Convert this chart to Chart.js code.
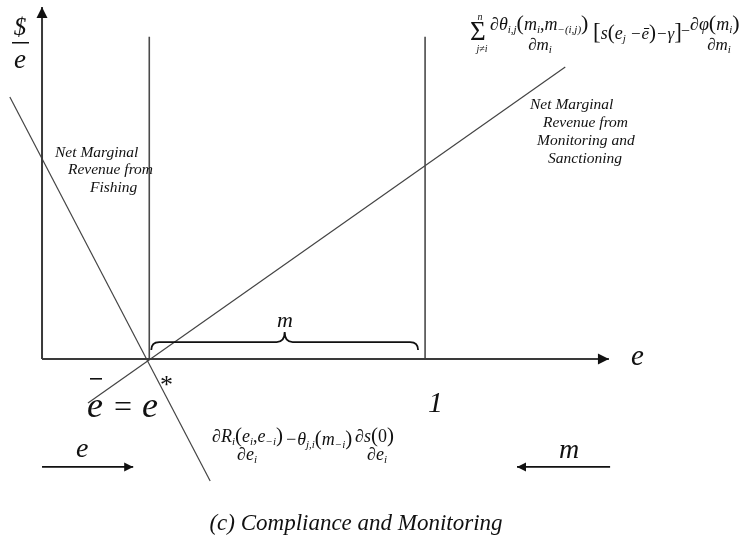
<!DOCTYPE html>
<html>
<head>
<meta charset="utf-8">
<script src="https://cdn.jsdelivr.net/npm/chart.js@4"></script>
<style>
  html, body { margin: 0; padding: 0; background: #fff; }
  #wrap { width: 748px; height: 537px; position: relative; }
</style>
</head>
<body>
<div id="wrap"><canvas id="complianceChart"></canvas></div>
<script>
// effort axis: 0 at the vertical axis, eBar = compliant effort, 1 = full effort
const eBar = 0.28;
const eFull = 1;
const axisXEnd = 1.48;
const axisYEnd = 0.919;
const guideTop = 0.841;

// the two marginal revenue schedules (end points)
const fishingX = [-0.084, 0.439];
const fishingY = [0.684, -0.319];
const monitorX = [0.12, 1.366];
const monitorY = [-0.115, 0.762];

// direction arrows under the diagram
const effortArrowX = [0, 0.238];
const monitorArrowX = [1.483, 1.24];
const arrowRowY = -0.282;

// brace over the monitoring range
const braceBase = 0.023;
const braceLevel = 0.044;
const braceTip = 0.07;

const pts = (xs, ys) => xs.map((x, i) => ({ x, y: ys[i] }));
const SERIF = '"Liberation Serif", "Times New Roman", serif';

const arrowHeads = {
  id: 'arrowHeads',
  afterDatasetsDraw(chart) {
    const ctx = chart.ctx;
    chart.data.datasets.forEach((ds, i) => {
      if (!ds.arrow) return;
      const el = chart.getDatasetMeta(i).data;
      const a = el[el.length - 2], b = el[el.length - 1];
      const ang = Math.atan2(b.y - a.y, b.x - a.x);
      const [len, half] = ds.arrow;
      ctx.save();
      ctx.translate(b.x, b.y);
      ctx.rotate(ang);
      ctx.beginPath();
      ctx.moveTo(0, 0);
      ctx.lineTo(-len, -half);
      ctx.lineTo(-len, half);
      ctx.closePath();
      ctx.fillStyle = '#111';
      ctx.fill();
      ctx.restore();
    });
  }
};

const brace = {
  id: 'brace',
  afterDatasetsDraw(chart) {
    const { ctx, scales: { x, y } } = chart;
    const x0 = x.getPixelForValue(eBar) + 2, x1 = x.getPixelForValue(eFull) - 7;
    const xm = (x0 + x1) / 2;
    const yb = y.getPixelForValue(braceBase), yl = y.getPixelForValue(braceLevel), yt = y.getPixelForValue(braceTip);
    const r = 8;
    ctx.save();
    ctx.strokeStyle = '#111';
    ctx.lineWidth = 1.8;
    ctx.beginPath();
    ctx.moveTo(x0, yb);
    ctx.quadraticCurveTo(x0, yl, x0 + r, yl);
    ctx.lineTo(xm - r, yl);
    ctx.quadraticCurveTo(xm, yl, xm, yt);
    ctx.quadraticCurveTo(xm, yl, xm + r, yl);
    ctx.lineTo(x1 - r, yl);
    ctx.quadraticCurveTo(x1, yl, x1, yb);
    ctx.stroke();
    ctx.restore();
  }
};

// draws a row of text pieces: [text, size, dy, italic]
function run(ctx, x, y, parts) {
  parts.forEach(([t, size, dy, it]) => {
    ctx.font = (it ? 'italic ' : '') + size + 'px ' + SERIF;
    ctx.fillText(t, x, y + (dy || 0));
    x += ctx.measureText(t).width;
  });
  return x;
}
function runWidth(ctx, parts) {
  let w = 0;
  parts.forEach(([t, size, , it]) => {
    ctx.font = (it ? 'italic ' : '') + size + 'px ' + SERIF;
    w += ctx.measureText(t).width;
  });
  return w;
}
function centered(ctx, cx, y, parts) {
  run(ctx, cx - runWidth(ctx, parts) / 2, y, parts);
}

const notes = {
  id: 'notes',
  afterDraw(chart) {
    const ctx = chart.ctx;
    ctx.save();
    ctx.fillStyle = '#111';
    ctx.textBaseline = 'alphabetic';
    ctx.textAlign = 'left';

    // y-axis unit: $ / e
    centered(ctx, 20, 35, [['$', 25, 0, true]]);
    ctx.fillRect(12, 42, 17, 1.5);
    centered(ctx, 20, 68, [['e', 27, 0, true]]);

    // axis labels
    run(ctx, 631, 365, [['e', 29, 0, true]]);
    run(ctx, 428, 412, [['1', 30, 0, true]]);
    run(ctx, 277, 327, [['m', 22, 0, true]]);
    run(ctx, 76, 457, [['e', 28, 0, true]]);
    run(ctx, 559, 458, [['m', 28, 0, true]]);

    // e-bar = e*
    run(ctx, 87, 417, [['e', 36, 0, true]]);
    run(ctx, 114, 417, [['=', 32, 0, false]]);
    run(ctx, 142, 417, [['e', 36, 0, true]]);
    ctx.fillRect(90, 378, 12, 1.6);
    run(ctx, 160, 393, [['*', 26, 0, false]]);

    // curve labels
    const lab = (t, x, y) => run(ctx, x, y, [[t, 15.5, 0, true]]);
    lab('Net Marginal', 55, 157);
    lab('Revenue from', 68, 174);
    lab('Fishing', 90, 192);
    lab('Net Marginal', 530, 109);
    lab('Revenue from', 543, 127);
    lab('Monitoring and', 537, 145);
    lab('Sanctioning', 548, 163);

    // marginal revenue from monitoring
    run(ctx, 470, 40, [['\u03a3', 27, 0, false]]);
    centered(ctx, 480, 20, [['n', 10, 0, true]]);
    centered(ctx, 482, 52, [['j\u2260i', 10, 0, true]]);
    run(ctx, 490, 30, [
      ['\u2202\u03b8', 18, 0, true], ['i,j', 11, 3, true], ['(', 22, 0, false],
      ['m', 18, 0, true], ['i', 11, 3, true], [',', 18, 0, false], ['m', 18, 0, true],
      ['\u2212(i,j)', 11, 3, true], [')', 22, 0, false]
    ]);
    centered(ctx, 540, 50, [['\u2202m', 17, 0, true], ['i', 11, 3, true]]);
    run(ctx, 593, 39, [
      ['[', 23, 0, false], ['s', 18, 0, true], ['(', 21, 0, false], ['e', 18, 0, true],
      ['j', 11, 3, true], [' \u2212\u0113', 17, 0, true], [')', 21, 0, false],
      ['\u2212\u03b3', 17, 0, true], [']', 23, 0, false]
    ]);
    run(ctx, 681, 36, [['\u2212', 16, 0, false]]);
    run(ctx, 690, 30, [
      ['\u2202\u03c6', 18, 0, true], ['(', 22, 0, false], ['m', 18, 0, true],
      ['i', 11, 3, true], [')', 22, 0, false]
    ]);
    centered(ctx, 719, 50, [['\u2202m', 17, 0, true], ['i', 11, 3, true]]);

    // marginal revenue from fishing
    run(ctx, 212, 442, [
      ['\u2202R', 18, 0, true], ['i', 11, 3, true], ['(', 21, 0, false], ['e', 18, 0, true],
      ['i', 11, 3, true], [',', 18, 0, false], ['e', 18, 0, true], ['\u2212i', 11, 3, true],
      [')', 21, 0, false]
    ]);
    centered(ctx, 247, 460, [['\u2202e', 18, 0, true], ['i', 11, 3, true]]);
    run(ctx, 285, 445, [
      ['\u2212\u03b8', 18, 0, true], ['j,i', 11, 3, true], ['(', 21, 0, false],
      ['m', 18, 0, true], ['\u2212i', 11, 3, true], [')', 21, 0, false]
    ]);
    run(ctx, 355, 442, [['\u2202s', 18, 0, true], ['(', 21, 0, false], ['0', 18, 0, false], [')', 21, 0, false]]);
    centered(ctx, 377, 460, [['\u2202e', 18, 0, true], ['i', 11, 3, true]]);

    // caption
    ctx.font = 'italic 23px ' + SERIF;
    ctx.textAlign = 'center';
    ctx.fillText('(c) Compliance and Monitoring', 356, 530);
    ctx.restore();
  }
};

const line = (data, color, width, extra) => Object.assign({
  data, borderColor: color, borderWidth: width, showLine: true,
  pointRadius: 0, fill: false, tension: 0
}, extra || {});

new Chart(document.getElementById('complianceChart'), {
  type: 'scatter',
  data: {
    datasets: [
      line(pts([0, 0], [0, axisYEnd]), '#3a3a3a', 2, { arrow: [11, 5.5] }),
      line(pts([0, axisXEnd], [0, 0]), '#3a3a3a', 2, { arrow: [11, 5.5] }),
      line(pts([eBar, eBar], [0, guideTop]), '#4a4a4a', 1.6),
      line(pts([eFull, eFull], [0, guideTop]), '#4a4a4a', 1.6),
      line(pts(fishingX, fishingY), '#444', 1.2),
      line(pts(monitorX, monitorY), '#444', 1.2),
      line(pts(effortArrowX, [arrowRowY, arrowRowY]), '#111', 1.6, { arrow: [9, 4.5] }),
      line(pts(monitorArrowX, [arrowRowY, arrowRowY]), '#111', 1.6, { arrow: [9, 4.5] })
    ]
  },
  options: {
    responsive: true,
    maintainAspectRatio: false,
    animation: false,
    layout: { padding: 0 },
    plugins: { legend: { display: false }, tooltip: { enabled: false } },
    scales: {
      x: { type: 'linear', min: -0.1097, max: 1.843, display: false },
      y: { type: 'linear', min: -0.465, max: 0.937, display: false }
    }
  },
  plugins: [arrowHeads, brace, notes]
});
</script>
</body>
</html>
